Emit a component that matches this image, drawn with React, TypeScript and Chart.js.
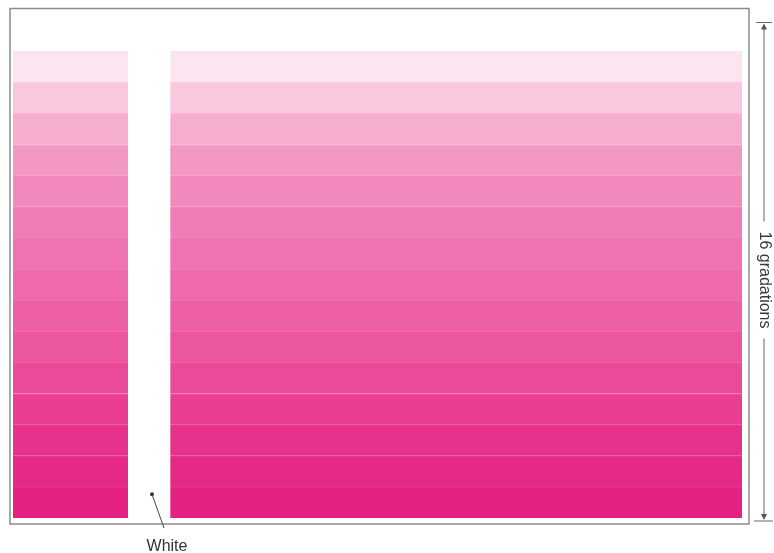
import React, { useEffect, useRef } from "react";
import { Chart, registerables } from "chart.js";

Chart.register(...registerables);

// 16 gradation levels, top (paper white) to bottom (solid)
const levels = ["0", "1", "2", "3", "4", "5", "6", "7", "8", "9", "10", "11", "12", "13", "14", "15"];
// magenta tint read per band (0 = white paper, 1 = full magenta)
const tints = [0, 0.11, 0.23, 0.34, 0.43, 0.49, 0.54, 0.58, 0.62, 0.66, 0.7, 0.75, 0.8, 0.85, 0.89, 0.92];
// panel widths: left patch, white gap, right patch (relative units)
const leftPatch = [115, 115, 115, 115, 115, 115, 115, 115, 115, 115, 115, 115, 115, 115, 115, 115];
const whiteGap = [42, 42, 42, 42, 42, 42, 42, 42, 42, 42, 42, 42, 42, 42, 42, 42];
const rightPatch = [572, 572, 572, 572, 572, 572, 572, 572, 572, 572, 572, 572, 572, 572, 572, 572];

const axisLabel = "16 gradations";
const whiteLabel = "White";

const BASE = [227, 14, 118];
function tintColor(t: number, lighten = 0) {
  const c = BASE.map((b) => {
    const v = 255 - t * (255 - b);
    return Math.round(v + (255 - v) * lighten);
  });
  return `rgb(${c[0]},${c[1]},${c[2]})`;
}

const FONT = "16px 'Liberation Sans', Arial, sans-serif";

const annotations = {
  id: "annotations",
  afterDraw(chart: any) {
    const { ctx, chartArea, scales } = chart;
    const { left, right, bottom } = chartArea;
    const y = scales.y;
    const x = scales.x;
    ctx.save();
    // frame
    ctx.strokeStyle = "#8c8c8c";
    ctx.lineWidth = 1.5;
    ctx.strokeRect(left - 3, 8.5, right - left + 10, bottom - 8.5 + 6);

    // dimension arrow on the right
    const ax = right + 22;
    const y0 = 22.5;
    const y1 = bottom + 3;
    ctx.strokeStyle = "#666";
    ctx.fillStyle = "#555";
    ctx.lineWidth = 1;
    ctx.beginPath();
    ctx.moveTo(ax - 8, y0);
    ctx.lineTo(ax + 8, y0);
    ctx.moveTo(ax - 10, y1);
    ctx.lineTo(ax + 9, y1);
    ctx.moveTo(ax, y0 + 4);
    ctx.lineTo(ax, y1 - 4);
    ctx.stroke();
    ctx.beginPath();
    ctx.moveTo(ax, y0 + 1);
    ctx.lineTo(ax - 3, y0 + 7);
    ctx.lineTo(ax + 3, y0 + 7);
    ctx.closePath();
    ctx.fill();
    ctx.beginPath();
    ctx.moveTo(ax, y1 - 1);
    ctx.lineTo(ax - 3, y1 - 7);
    ctx.lineTo(ax + 3, y1 - 7);
    ctx.closePath();
    ctx.fill();

    // rotated label with white background
    const mid = 280;
    ctx.font = FONT;
    const w = ctx.measureText(axisLabel).width;
    ctx.fillStyle = "#fff";
    ctx.fillRect(ax - 10, mid - w / 2 - 10, 20, w + 20);
    ctx.translate(ax, mid);
    ctx.rotate(Math.PI / 2);
    ctx.fillStyle = "#3a3a3a";
    ctx.textAlign = "center";
    ctx.textBaseline = "middle";
    ctx.fillText(axisLabel, 0, 0);
    ctx.setTransform(1, 0, 0, 1, 0, 0);

    // "White" callout
    const wx = x.getPixelForValue(leftPatch[0] + whiteGap[0] / 2) + 3;
    const wy = y.getPixelForValue(14) + 23;
    ctx.fillStyle = "#333";
    ctx.beginPath();
    ctx.arc(wx, wy, 2, 0, Math.PI * 2);
    ctx.fill();
    ctx.strokeStyle = "#444";
    ctx.lineWidth = 1;
    ctx.beginPath();
    ctx.moveTo(wx, wy);
    ctx.lineTo(wx + 12, bottom + 10);
    ctx.stroke();
    ctx.font = FONT;
    ctx.textAlign = "center";
    ctx.textBaseline = "alphabetic";
    ctx.fillStyle = "#333";
    ctx.fillText(whiteLabel, wx + 15, bottom + 33);
    ctx.restore();
  },
};

export default function App() {
  const ref = useRef<HTMLCanvasElement | null>(null);
  useEffect(() => {
    document.body.style.margin = "0";
    document.body.style.background = "#fff";
    if (!ref.current) return;
    const fills = tints.map((t) => tintColor(t));
    const borders = tints.map((t) => tintColor(t, 0.12));
    const bar = {
      backgroundColor: fills,
      borderColor: borders,
      borderWidth: { top: 1, left: 0, right: 0, bottom: 0 },
      borderSkipped: false,
      barPercentage: 1,
      categoryPercentage: 1,
    };
    const chart = new Chart(ref.current, {
      type: "bar",
      data: {
        labels: levels,
        datasets: [
          { label: "Left patch", data: leftPatch, ...bar },
          {
            label: "White",
            data: whiteGap,
            backgroundColor: "#ffffff",
            borderWidth: 0,
            barPercentage: 1,
            categoryPercentage: 1,
          },
          { label: "Right patch", data: rightPatch, ...bar },
        ],
      },
      options: {
        indexAxis: "y",
        animation: false,
        responsive: false,
        devicePixelRatio: 1,
        layout: { padding: { left: 13, right: 32, top: 20, bottom: 35 } },
        plugins: { legend: { display: false }, tooltip: { enabled: false } },
        scales: {
          x: { stacked: true, display: false, min: 0, max: 729 },
          y: { stacked: true, display: false },
        },
      },
      plugins: [annotations],
    } as any);
    return () => chart.destroy();
  }, []);
  return (
    <div style={{ width: 774, height: 553 }}>
      <canvas ref={ref} width={774} height={553} />
    </div>
  );
}
